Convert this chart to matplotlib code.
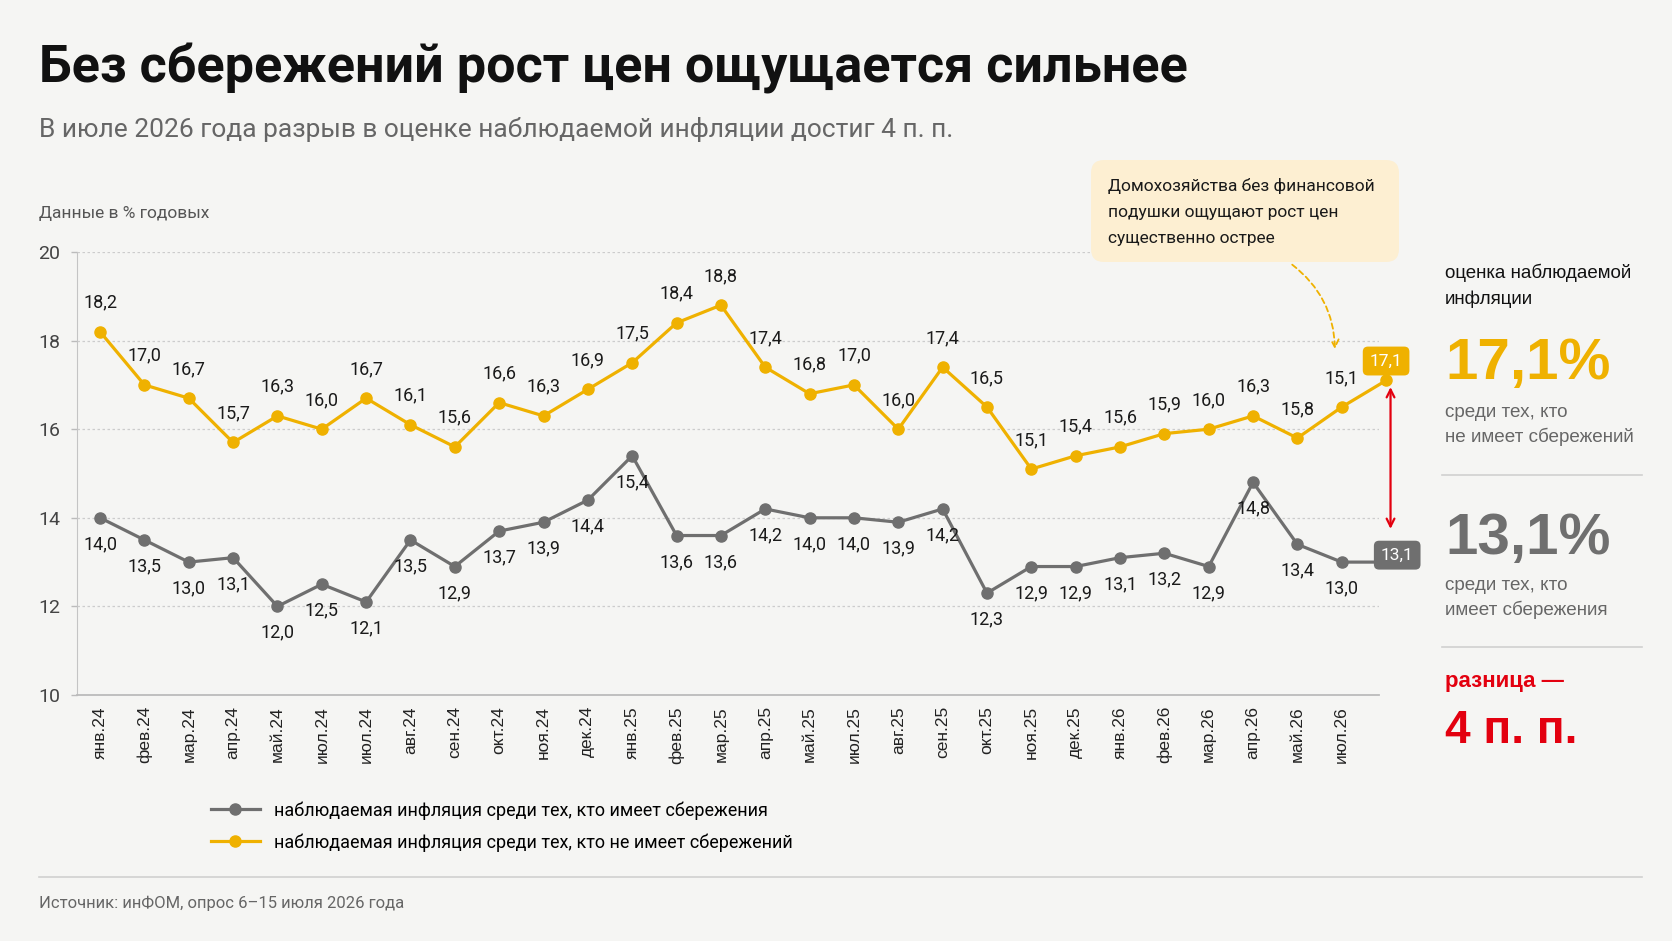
import matplotlib
matplotlib.use("Agg")
import matplotlib.pyplot as plt
from matplotlib.patches import FancyBboxPatch, FancyArrowPatch
from matplotlib.lines import Line2D

W, H = 1672, 941

# data (% годовых)
months = ['янв.24', 'фев.24', 'мар.24', 'апр.24', 'май.24', 'июл.24', 'июл.24', 'авг.24',
          'сен.24', 'окт.24', 'ноя.24', 'дек.24', 'янв.25', 'фев.25', 'мар.25', 'апр.25',
          'май.25', 'июл.25', 'авг.25', 'сен.25', 'окт.25', 'ноя.25', 'дек.25', 'янв.26',
          'фев.26', 'мар.26', 'апр.26', 'май.26', 'июл.26']
no_savings = [18.2, 17.0, 16.7, 15.7, 16.3, 16.0, 16.7, 16.1, 15.6, 16.6, 16.3, 16.9, 17.5, 18.4,
              18.8, 17.4, 16.8, 17.0, 16.0, 17.4, 16.5, 15.1, 15.4, 15.6, 15.9, 16.0, 16.3, 15.8,
              16.5, 17.1]
with_savings = [14.0, 13.5, 13.0, 13.1, 12.0, 12.5, 12.1, 13.5, 12.9, 13.7, 13.9, 14.4, 15.4, 13.6,
                13.6, 14.2, 14.0, 14.0, 13.9, 14.2, 12.3, 12.9, 12.9, 13.1, 13.2, 12.9, 14.8, 13.4,
                13.0, 13.0]
no_savings_text = [('%.1f' % v).replace('.', ',') for v in no_savings]
no_savings_text[28] = '15,1'   # as printed on the original
with_savings_text = [('%.1f' % v).replace('.', ',') for v in with_savings]
badge_no = '17,1'
badge_with = '13,1'

ORANGE = '#efb100'
GREY = '#6f6f6f'
RED = '#e3000f'
BG = '#f5f5f3'

plt.rcParams['font.family'] = ['Roboto', 'DejaVu Sans']

def fx(x):
    return x / W

def fy(y):
    return 1 - y / H

fig = plt.figure(figsize=(W / 100, H / 100), dpi=100, facecolor=BG)

fig.text(fx(39), fy(69), 'Без сбережений рост цен ощущается сильнее', fontsize=37.5,
         fontweight='bold', va='center', color='#111111')
fig.text(fx(39), fy(129), 'В июле 2026 года разрыв в оценке наблюдаемой инфляции достиг 4 п. п.',
         fontsize=19, va='center', color='#666666')
fig.text(fx(39), fy(214), 'Данные в % годовых', fontsize=12.5, va='center', color='#555555')

ax = fig.add_axes([fx(77), fy(695), fx(1379 - 77), (695 - 252) / H])
ax.set_facecolor(BG)
x = list(range(len(no_savings)))
l_with, = ax.plot(x, with_savings, color=GREY, lw=2.3, marker='o', ms=8, clip_on=False, zorder=3,
                  label='наблюдаемая инфляция среди тех, кто имеет сбережения')
l_no, = ax.plot(x, no_savings, color=ORANGE, lw=2.3, marker='o', ms=8, clip_on=False, zorder=3,
                label='наблюдаемая инфляция среди тех, кто не имеет сбережений')

for i, v in enumerate(no_savings[:-1]):
    ax.annotate(no_savings_text[i], (i, v), xytext=(0, 21), textcoords='offset points',
                ha='center', va='center', fontsize=13, color='#1a1a1a')
for i, v in enumerate(with_savings):
    ax.annotate(with_savings_text[i], (i, v), xytext=(0, -19), textcoords='offset points',
                ha='center', va='center', fontsize=13, color='#1a1a1a')

# badges at the last point
last = len(no_savings) - 1
ax.annotate(badge_no, (last, no_savings[-1]), xytext=(0, 14), textcoords='offset points',
            ha='center', va='center', fontsize=12.5, color='white', annotation_clip=False, zorder=5,
            bbox=dict(boxstyle='round,pad=0.4,rounding_size=0.3', fc=ORANGE, ec='none'))
ax.annotate(badge_with, (last, with_savings[-1]), xytext=(8, 5), textcoords='offset points',
            ha='center', va='center', fontsize=12.5, color='white', annotation_clip=False, zorder=5,
            bbox=dict(boxstyle='round,pad=0.4,rounding_size=0.3', fc=GREY, ec='none'))
ax.annotate('', xy=(last + 0.1, with_savings[-1] + 0.75), xytext=(last + 0.1, no_savings[-1] - 0.15),
            annotation_clip=False,
            arrowprops=dict(arrowstyle='<->', color=RED, lw=1.6, mutation_scale=14, shrinkA=0, shrinkB=0))

ax.set_xlim(-0.52, 28.84)
ax.set_ylim(10, 20)
ax.set_yticks([10, 12, 14, 16, 18, 20])
ax.set_xticks(range(len(months)))
ax.set_xticklabels(months, rotation=90, fontsize=12.5, family='Liberation Sans', color='#222222')
ax.tick_params(axis='x', length=0, pad=8)
ax.tick_params(axis='y', length=4, width=1, color='#bbbbbb', pad=8, labelsize=14, labelcolor='#444444')
ax.grid(axis='y', linestyle=(0, (2, 2)), color='#cccccc', lw=0.9)
ax.set_axisbelow(True)
for s in ['top', 'right']:
    ax.spines[s].set_visible(False)
ax.spines['left'].set_color('#c4c4c4')
ax.spines['bottom'].set_color('#bbbbbb')
ax.spines['bottom'].set_linewidth(1.3)

fig.legend(handles=[l_with, l_no], loc='upper left', bbox_to_anchor=(fx(211), fy(801)),
           frameon=False, fontsize=13, handlelength=2.7, handletextpad=0.8, labelspacing=0.75,
           borderpad=0, borderaxespad=0)

# callout
box = FancyBboxPatch((10.91, (H - 262) / 100), 3.08, 1.02, transform=fig.dpi_scale_trans,
                     boxstyle='round,pad=0,rounding_size=0.13', fc='#fdefd2', ec='none')
fig.add_artist(box)
for yy, t in zip([186, 212, 239], ['Домохозяйства без финансовой', 'подушки ощущают рост цен',
                                   'существенно острее']):
    fig.text(fx(1108), fy(yy), t, fontsize=12.5, va='center', color='#1a1a1a')
fig.add_artist(FancyArrowPatch((fx(1290), fy(263)), (fx(1335), fy(352)), transform=fig.transFigure,
                               connectionstyle='arc3,rad=-0.25', arrowstyle='->', mutation_scale=14,
                               color=ORANGE, lw=1.3, linestyle=(0, (3, 2))))

# right panel
RX = fx(1445)
fig.text(RX, fy(286), 'оценка наблюдаемой\nинфляции', fontsize=13.5, va='center', linespacing=1.6,
         family='Liberation Sans', color='#111111')
fig.text(RX, fy(364), '17,1%', fontsize=42, fontweight='bold', va='center', color=ORANGE,
         family='Liberation Sans')
fig.text(RX, fy(425), 'среди тех, кто\nне имеет сбережений', fontsize=13.6, va='center',
         linespacing=1.5, family='Liberation Sans', color='#666666')
fig.add_artist(Line2D([fx(1442), fx(1642)], [fy(475), fy(475)], color='#d0d0d0', lw=1.2))
fig.text(RX, fy(539), '13,1%', fontsize=42, fontweight='bold', va='center', color=GREY,
         family='Liberation Sans')
fig.text(RX, fy(598), 'среди тех, кто\nимеет сбережения', fontsize=13.6, va='center',
         linespacing=1.5, family='Liberation Sans', color='#666666')
fig.add_artist(Line2D([fx(1442), fx(1642)], [fy(647), fy(647)], color='#d0d0d0', lw=1.2))
fig.text(RX, fy(681), 'разница —', fontsize=16, fontweight='bold', va='center', color=RED,
         family='Liberation Sans')
fig.text(RX, fy(731), '4 п. п.', fontsize=33, fontweight='bold', va='center', color=RED,
         family='Liberation Sans')

fig.add_artist(Line2D([fx(39), fx(1642)], [fy(877), fy(877)], color='#d0d0d0', lw=1.2))
fig.text(fx(39), fy(903), 'Источник: инФОМ, опрос 6–15 июля 2026 года', fontsize=12, va='center',
         color='#666666')

fig.savefig('out.png', dpi=100, facecolor=BG)
